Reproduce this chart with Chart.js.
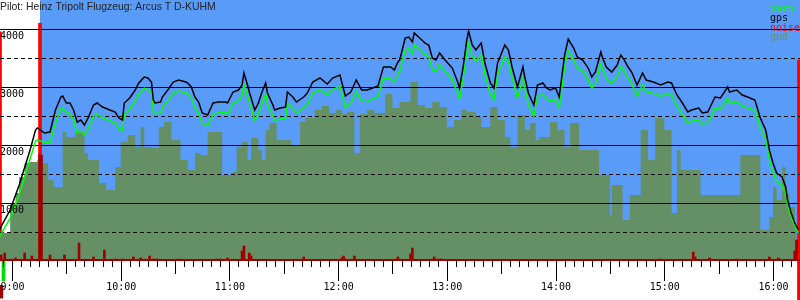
<!DOCTYPE html>
<html>
<head>
<meta charset="utf-8">
<script src="https://cdn.jsdelivr.net/npm/chart.js@4"></script>
<style>
body { margin: 0; background: #fff; }
#box { width: 800px; height: 300px; position: relative; }
</style>
</head>
<body>
<div id="box"><canvas id="baro"></canvas></div>
<script>
const title = "Pilot: Heinz Tripolt Flugzeug: Arcus T D-KUHM";
const legendNames = ["baro", "gps", "noise", "gnd"];
const legendColors = ["#00ff00", "#000000", "#ff0000", "#6b8f6b"];

const xStart = "8:53:24";
const xEnd = "16:14:54";
const flightStart = "9:15:29";
const yMax = 4500;
const solidLines = [1000, 2000, 3000, 4000];
const dashedLines = [500, 1500, 2500, 3500];
const hourLabels = ["9:00", "10:00", "11:00", "12:00", "13:00", "14:00", "15:00", "16:00"];

const gpsTime = ["8:53","8:59","9:04","9:10","9:13","9:14","9:18","9:21","9:24","9:27","9:28","9:30","9:32","9:34","9:36","9:38","9:40","9:42","9:45","9:47","9:50","9:54","9:57","9:59",
  "10:01","10:02","10:05","10:08","10:10","10:13","10:15","10:17","10:18","10:19","10:22","10:23","10:26","10:29","10:32","10:36","10:37","10:39","10:41","10:43","10:45","10:48","10:51","10:54","10:58","10:59",
  "11:02","11:05","11:07","11:08","11:10","11:11","11:14","11:16","11:18","11:20","11:21","11:24","11:25","11:28","11:31","11:32","11:35","11:37","11:41","11:43","11:46","11:50","11:54","11:57",
  "12:01","12:04","12:07","12:10","12:13","12:16","12:19","12:22","12:25","12:29","12:31","12:33","12:34","12:37","12:39","12:41","12:42","12:45","12:48","12:50","12:52","12:54","12:56","12:59",
  "13:03","13:06","13:07","13:09","13:11","13:12","13:14","13:16","13:19","13:21","13:24","13:26","13:28","13:32","13:34","13:36","13:39","13:42","13:43","13:45","13:48","13:50","13:53","13:55","13:57",
  "14:00","14:02","14:05","14:07","14:10","14:12","14:15","14:18","14:20","14:22","14:25","14:26","14:28","14:31","14:34","14:36","14:38","14:40","14:42","14:45","14:48","14:50","14:54","14:58",
  "15:02","15:04","15:07","15:10","15:13","15:15","15:19","15:21","15:24","15:28","15:31","15:35","15:36","15:40","15:43","15:46","15:50","15:53","15:56","15:58",
  "16:00","16:02","16:05","16:07","16:08","16:10","16:12","16:14"];
const gpsAlt = [534,879,1310,1914,2258,2293,2207,2224,2603,2827,2845,2724,2724,2603,2396,2431,2345,2465,2689,2724,2655,2603,2569,2465,
  2431,2724,2810,2948,3069,3172,3155,3086,2776,2724,2741,2827,2948,3086,3120,3086,3069,3000,2827,2741,2552,2517,2724,2741,2741,2724,
  2914,2948,3034,3241,3034,2914,2603,2724,2914,3069,2896,2689,2603,2638,2655,2914,2827,2741,2827,2896,3086,3155,3051,3155,
  3206,2845,2914,3120,2948,2948,2983,3017,3345,3345,3293,3431,3465,3845,3862,3776,3931,3845,3758,3724,3500,3465,3586,3465,
  3327,3086,2983,3345,3810,3965,3724,3638,3758,3414,3069,2983,3414,3724,3638,3345,3000,3345,3172,2896,2689,3034,3069,2983,2948,
  2983,2827,3551,3827,3672,3517,3465,3327,3172,3258,3603,3500,3345,3258,3379,3551,3465,3345,3258,3034,3241,3120,3086,3034,
  3086,3069,2862,2724,2569,2603,2638,2552,2569,2827,2810,3000,2914,2948,2862,2827,2776,2465,2258,1914,
  1690,1517,1448,1276,1052,828,655,534];
const baroAlt = [414,740,1140,1760,2070,2090,2040,2050,2380,2620,2640,2560,2540,2420,2210,2240,2170,2280,2500,2530,2470,2420,2380,2280,
  2250,2530,2620,2760,2870,2980,2960,2900,2600,2540,2550,2640,2760,2890,2930,2900,2880,2810,2640,2550,2370,2330,2530,2550,2560,2530,
  2720,2760,2850,3040,2850,2730,2430,2540,2720,2880,2710,2500,2420,2450,2460,2720,2640,2550,2640,2700,2890,2960,2860,2960,
  3010,2650,2720,2920,2760,2750,2790,2830,3150,3140,3100,3230,3270,3640,3660,3580,3730,3650,3560,3530,3300,3270,3390,3270,
  3130,2890,2790,3150,3600,3750,3530,3440,3560,3220,2870,2790,3210,3520,3440,3150,2810,3150,2980,2700,2500,2840,2870,2790,2760,
  2790,2640,3350,3620,3470,3320,3270,3130,2980,3060,3400,3300,3150,3060,3180,3350,3270,3150,3060,2840,3040,2920,2890,2840,
  2890,2870,2670,2530,2370,2410,2440,2360,2380,2630,2620,2810,2720,2750,2670,2640,2600,2300,2100,1740,
  1520,1380,1300,1150,960,760,600,480];

const gndTime = ["8:53","8:59","9:02","9:04","9:07","9:10","9:14","9:17","9:20","9:23","9:28","9:30","9:35","9:40","9:42","9:48","9:52","9:57",
  "10:00","10:04","10:08","10:11","10:13","10:17","10:21","10:24","10:28","10:33","10:37","10:41","10:44","10:48","10:56",
  "11:01","11:04","11:07","11:10","11:12","11:16","11:18","11:20","11:22","11:26","11:34","11:39","11:42","11:47","11:51","11:55","11:59",
  "12:02","12:05","12:09","12:12","12:16","12:20","12:26","12:30","12:34","12:40","12:44","12:48","12:52","12:56",
  "13:00","13:04","13:08","13:11","13:16","13:19","13:24","13:28","13:32","13:35","13:39","13:43","13:46","13:49","13:51","13:57",
  "14:01","14:05","14:08","14:13","14:24","14:30","14:31","14:37","14:41","14:47","14:51","14:55",
  "15:00","15:04","15:07","15:09","15:20","15:42","15:53","15:58","16:00","16:02","16:05","16:07","16:09","16:12","16:13"];
const gndAlt = [483,1000,1172,1448,1690,1707,1741,1690,1396,1276,2224,2138,2224,1862,1741,1345,1224,1621,
  2052,2172,1965,2310,1965,1948,2310,2396,2086,1741,1569,1862,1827,2224,1483,
  1534,1965,2052,1741,2121,1914,1741,2258,2379,2086,2000,2396,2465,2603,2672,2552,2603,
  2534,2569,1862,2534,2603,2552,2879,2638,2741,3086,2689,2638,2741,2655,
  2310,2431,2603,2569,2483,2310,2655,2431,2138,1965,2517,2258,2379,2086,2138,2396,
  2258,1965,2379,1914,1483,793,1310,707,1138,2258,1741,2465,
  2258,828,1914,1569,1138,1827,534,759,1276,1052,1621,1172,931,534,0];

const noiseTime = ["8:54","8:56","9:02","9:07","9:11","9:15:12","9:16:18","9:21","9:29","9:37","9:45","9:51","9:57",
  "10:01","10:07","10:11","10:16","10:18","10:20","10:32","10:53","10:55","10:59",
  "11:07","11:08","11:11","11:12","11:41","12:02","12:03","12:04","12:09","12:33","12:40","12:41","12:53","12:55","12:57",
  "14:58","15:16","15:17","15:25","15:40","15:58","16:03","16:12","16:13"];
const noiseVal = [103,138,52,138,86,1827,1827,103,103,310,69,190,34,
  34,69,52,86,34,34,34,34,34,52,
  172,259,138,86,69,52,86,34,86,69,121,224,69,34,34,
  34,155,69,52,34,69,52,172,362];

const markTime = ["8:53:24", "9:15:29", "16:14:20", "8:55:20", "8:54:10"];
const markLow = [0, 0, -690, -340, -640];
const markHigh = [3950, 4100, 3465, 0, -420];
const markColors = ["#ff0000", "#ff0000", "#ff0000", "#00dd00", "#a00000"];

function toMin(s) {
  const p = s.split(":").map(Number);
  return p[0] * 60 + p[1] + (p[2] || 0) / 60;
}

const gpsData = gpsTime.map((t, i) => ({x: toMin(t), y: gpsAlt[i]}));
const baroData = gpsTime.map((t, i) => ({x: toMin(t), y: baroAlt[i]}));
const gndData = gndTime.map((t, i) => ({x: toMin(t), y: gndAlt[i]}));
const noiseData = noiseTime.map((t, i) => ({x: toMin(t), y: noiseVal[i]}));
const markData = markTime.map((t, i) => ({x: toMin(t), y: [markLow[i], markHigh[i]]}));

const mono = "10px 'DejaVu Sans Mono'";

const barogram = {
  id: "barogram",
  beforeDatasetsDraw(chart) {
    const {ctx, chartArea, scales} = chart;
    const x0 = scales.x.getPixelForValue(toMin(flightStart));
    ctx.save();
    ctx.fillStyle = "#599bf8";
    ctx.fillRect(x0, 0, chartArea.right - x0, scales.y.getPixelForValue(0));
    ctx.restore();
  },
  afterDatasetDraw(chart, args) {
    if (args.index !== 3) return;
    const {ctx, chartArea, scales} = chart;
    ctx.save();
    ctx.strokeStyle = "#000";
    ctx.lineWidth = 1;
    solidLines.forEach(v => {
      const y = Math.round(scales.y.getPixelForValue(v)) + 0.5;
      ctx.beginPath(); ctx.moveTo(chartArea.left, y); ctx.lineTo(chartArea.right, y); ctx.stroke();
    });
    ctx.setLineDash([4, 3]);
    dashedLines.forEach(v => {
      const y = Math.round(scales.y.getPixelForValue(v)) + 0.5;
      ctx.beginPath(); ctx.moveTo(chartArea.left, y); ctx.lineTo(chartArea.right, y); ctx.stroke();
    });
    ctx.restore();
  },
  afterDraw(chart) {
    const {ctx, chartArea, scales} = chart;
    const base = scales.y.getPixelForValue(0);
    ctx.save();
    // axis line
    ctx.fillStyle = "#a00000";
    ctx.fillRect(0, base - 2, chartArea.right, 2);
    // time ticks, every 5 minutes
    ctx.fillStyle = "#000";
    for (let m = Math.ceil(toMin(xStart) / 5) * 5; m <= toMin(xEnd); m += 5) {
      const x = Math.round(scales.x.getPixelForValue(m));
      const len = m % 60 === 0 ? 20 : (m % 30 === 0 ? 13 : 6);
      ctx.fillRect(x, base, 1, len);
    }
    ctx.font = mono;
    ctx.textAlign = "center";
    hourLabels.forEach(l => {
      ctx.fillText(l, scales.x.getPixelForValue(toMin(l)) + 0.5, 290);
    });
    // altitude labels
    ctx.textAlign = "left";
    solidLines.forEach(v => {
      ctx.fillText(String(v), 0, scales.y.getPixelForValue(v) + 10);
    });
    // legend
    legendNames.forEach((n, i) => {
      ctx.fillStyle = legendColors[i];
      ctx.fillText(n, 770, 11.5 + i * 9.6);
    });
    // title
    ctx.fillStyle = "#222";
    ctx.font = "10.4px 'Liberation Sans'";
    ctx.fillText(title, 0, 10);
    ctx.restore();
  }
};

new Chart(document.getElementById("baro"), {
  type: "line",
  data: {
    datasets: [
      {label: "gps", data: gpsData, borderColor: "#000", borderWidth: 1.5, pointRadius: 0, order: 0, tension: 0},
      {label: "baro", data: baroData, borderColor: "#00ff00", borderWidth: 1.5, pointRadius: 0, order: 1, tension: 0},
      {type: "bar", label: "noise", data: noiseData, backgroundColor: "#a00000", barThickness: 2, grouped: false, order: 2},
      {label: "gnd", data: gndData, stepped: true, fill: "origin", backgroundColor: "#658f65", borderWidth: 0, pointRadius: 0, order: 3},
      {type: "bar", label: "marks", data: markData, backgroundColor: markColors, barThickness: 3, grouped: false, clip: false, order: 4}
    ]
  },
  options: {
    responsive: true,
    maintainAspectRatio: false,
    animation: false,
    layout: {padding: {bottom: 39}},
    plugins: {legend: {display: false}, tooltip: {enabled: false}},
    scales: {
      x: {type: "linear", display: false, offset: false, grid: {offset: false}, min: toMin(xStart), max: toMin(xEnd)},
      y: {display: false, min: 0, max: yMax}
    }
  },
  plugins: [barogram]
});
</script>
</body>
</html>
